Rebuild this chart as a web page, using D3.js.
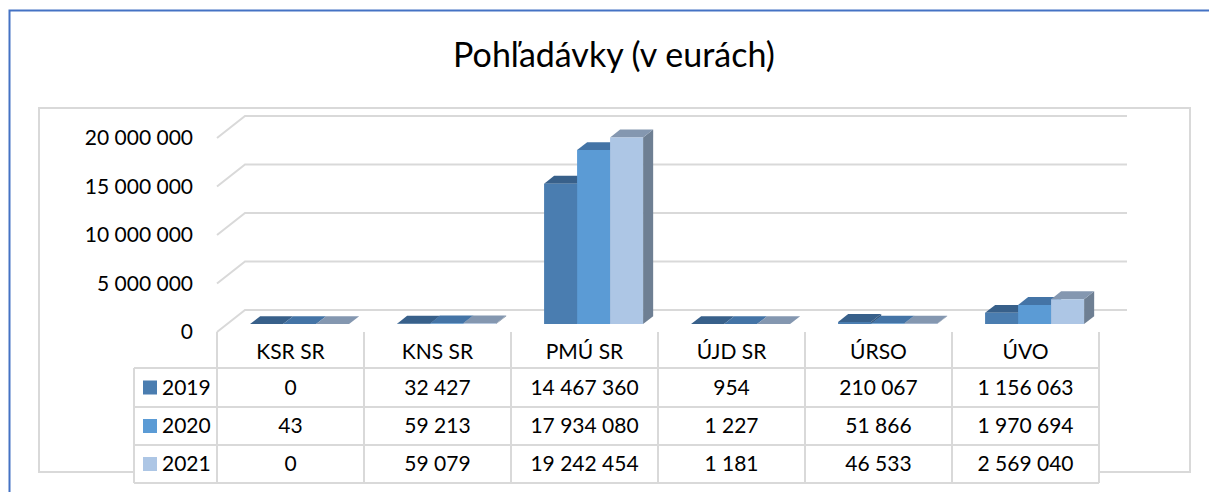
<!DOCTYPE html>
<html>
<head>
<meta charset="utf-8">
<script src="https://cdn.jsdelivr.net/npm/d3@7"></script>
<style>
  body { margin: 0; background: #fff; }
  svg text { font-family: Lato, "Open Sans", sans-serif; fill: #000; }
</style>
</head>
<body>
<div id="container"></div>
<script>
var categories = ["KSR SR", "KNS SR", "PMÚ SR", "ÚJD SR", "ÚRSO", "ÚVO"];
var years = ["2019", "2020", "2021"];
var values2019 = [0, 32427, 14467360, 954, 210067, 1156063];
var values2020 = [43, 59213, 17934080, 1227, 51866, 1970694];
var values2021 = [0, 59079, 19242454, 1181, 46533, 2569040];
var yTicks = [0, 5000000, 10000000, 15000000, 20000000];

var series = [values2019, values2020, values2021];
var frontColors = ["#4a7db0", "#5b9bd5", "#adc6e5"];
var topColors = ["#38608a", "#4474a6", "#8497b0"];
var sideColors = ["#35587d", "#3f6d9c", "#6e7f93"];
var gridColor = "#d9d9d9";

var fmt = d3.formatLocale({ decimal: ",", thousands: " ", grouping: [3], currency: ["", " €"] }).format(",d");

var svg = d3.select("#container").append("svg")
            .attr("width", 1209)
            .attr("height", 492);

// depth of the 3d box
var dx = 28, dy = 22;

var x = d3.scaleBand().domain(categories).range([217, 1099]).padding(0);
var y = d3.scaleLinear().domain([0, 20000000]).range([332, 138]);

function pt(px, v, d) {
  return [px + d * dx, y(v) - d * dy];
}

// outer blue frame (only top and left are in view)
svg.append("path")
   .attr("d", "M9.5,492 L9.5,10.5 L1209,10.5")
   .attr("fill", "none")
   .attr("stroke", "#4472c4")
   .attr("stroke-width", 2);

// plot area border
svg.append("rect")
   .attr("x", 39).attr("y", 108)
   .attr("width", 1151).attr("height", 364)
   .attr("fill", "none")
   .attr("stroke", gridColor)
   .attr("stroke-width", 2);

svg.append("text")
   .attr("x", 614).attr("y", 55)
   .attr("dy", "0.35em")
   .attr("text-anchor", "middle")
   .style("font-size", "34px")
   .text("Pohľadávky (v eurách)");

// gridlines on side wall and back wall
svg.selectAll(".grid")
   .data(yTicks)
   .enter()
   .append("path")
   .attr("class", "grid")
   .attr("fill", "none")
   .attr("stroke", gridColor)
   .attr("stroke-width", 2)
   .attr("d", function(t) {
     var a = pt(x.range()[0], t, 0), b = pt(x.range()[0], t, 1), c = pt(x.range()[1], t, 1);
     return "M" + a + "L" + b + "L" + c;
   });

svg.selectAll(".ylab")
   .data(yTicks)
   .enter()
   .append("text")
   .attr("class", "ylab")
   .attr("x", 193)
   .attr("y", function(t) { return y(t); })
   .attr("dy", "0.35em")
   .attr("text-anchor", "end")
   .style("font-size", "21px")
   .text(function(t) { return fmt(t); });

// bars
var barW = 33, d1 = 0.36, d2 = 0.72;
categories.forEach(function(c, ci) {
  series.forEach(function(vals, si) {
    var v = vals[ci];
    var x0 = x(c) + 23 + si * barW, x1 = x0 + barW;
    var g = svg.append("g");
    var side = [pt(x1, 0, d1), pt(x1, 0, d2), pt(x1, v, d2), pt(x1, v, d1)];
    var top = [pt(x0, v, d1), pt(x1, v, d1), pt(x1, v, d2), pt(x0, v, d2)];
    var front = [pt(x0, 0, d1), pt(x1, 0, d1), pt(x1, v, d1), pt(x0, v, d1)];
    g.append("path").attr("d", "M" + side.join("L") + "Z").attr("fill", sideColors[si]);
    g.append("path").attr("d", "M" + top.join("L") + "Z").attr("fill", topColors[si]);
    g.append("path").attr("d", "M" + front.join("L") + "Z").attr("fill", frontColors[si]);
  });
});

// data table
var rowTop = [368, 407, 445];
var rowH = [39, 38, 38];
var tableBottom = 483;

svg.append("rect")
   .attr("x", 134).attr("y", 368)
   .attr("width", 1099 - 134).attr("height", tableBottom - 368)
   .attr("fill", "#fff");

svg.append("clipPath").attr("id", "cut")
   .append("rect").attr("x", 0).attr("y", 0).attr("width", 1209).attr("height", 472);

var tbl = svg.append("g").attr("clip-path", "url(#cut)");

tbl.selectAll(".cat")
   .data(categories)
   .enter()
   .append("text")
   .attr("x", function(c) { return x(c) + x.bandwidth() / 2; })
   .attr("y", 352)
   .attr("dy", "0.35em")
   .attr("text-anchor", "middle")
   .style("font-size", "21px")
   .text(function(c) { return c; });

series.forEach(function(vals, si) {
  var cy = rowTop[si] + rowH[si] / 2;
  tbl.append("rect")
     .attr("x", 143).attr("y", cy - 7)
     .attr("width", 14).attr("height", 14)
     .attr("fill", frontColors[si]);
  tbl.append("text")
     .attr("x", 162).attr("y", cy)
     .attr("dy", "0.35em")
     .style("font-size", "21px")
     .text(years[si]);
  tbl.selectAll(".v" + si)
     .data(vals)
     .enter()
     .append("text")
     .attr("x", function(v, i) { return x(categories[i]) + x.bandwidth() / 2; })
     .attr("y", cy)
     .attr("dy", "0.35em")
     .attr("text-anchor", "middle")
     .style("font-size", "21px")
     .text(function(v) { return fmt(v); });
});

// table lines
var colEdges = categories.map(function(c) { return x(c); }).concat([x.range()[1]]);
svg.selectAll(".vline")
   .data(colEdges)
   .enter()
   .append("line")
   .attr("x1", function(d) { return d; }).attr("x2", function(d) { return d; })
   .attr("y1", 332).attr("y2", tableBottom)
   .attr("stroke", gridColor).attr("stroke-width", 2);

svg.append("line")
   .attr("x1", 134).attr("x2", 134)
   .attr("y1", 368).attr("y2", tableBottom)
   .attr("stroke", gridColor).attr("stroke-width", 2);

svg.selectAll(".hline")
   .data(rowTop.concat([tableBottom]))
   .enter()
   .append("line")
   .attr("x1", 134).attr("x2", 1099)
   .attr("y1", function(d) { return d; }).attr("y2", function(d) { return d; })
   .attr("stroke", gridColor).attr("stroke-width", 2);
</script>
</body>
</html>
